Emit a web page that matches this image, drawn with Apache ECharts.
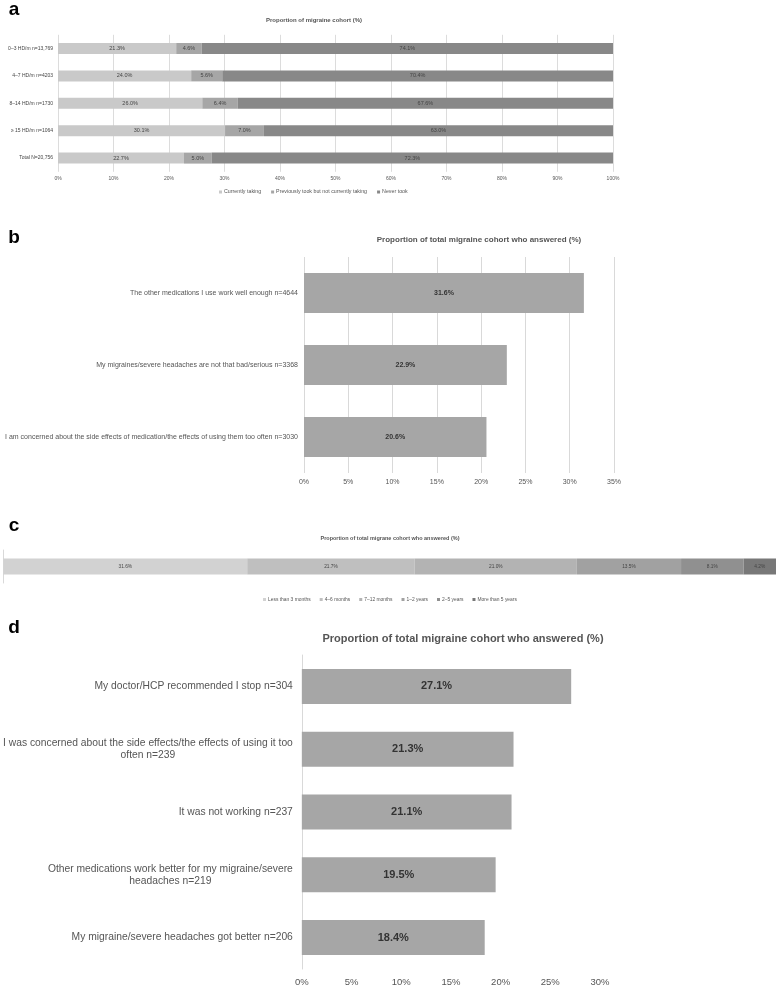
<!DOCTYPE html>
<html><head><meta charset="utf-8">
<script src="https://cdn.jsdelivr.net/npm/echarts@6/dist/echarts.min.js"></script>
<style>html,body{margin:0;padding:0;background:#fff}#c{width:777px;height:987px}</style>
</head><body><div id="c"></div>
<script>
// ---- Panel a ----
const aCategories = ['0–3 HD/m n=13,769', '4–7 HD/m n=4203', '8–14 HD/m n=1730', '≥ 15 HD/m n=1064', 'Total N=20,756'];
const aSeriesNames = ['Currently taking', 'Previously took but not currently taking', 'Never took'];
const aCurrently = [21.3, 24.0, 26.0, 30.1, 22.7];
const aPreviously = [4.6, 5.6, 6.4, 7.0, 5.0];
const aNever = [74.1, 70.4, 67.6, 63.0, 72.3];
// ---- Panel b ----
const bCategories = ['The other medications I use work well enough n=4644',
  'My migraines/severe headaches are not that bad/serious n=3368',
  'I am concerned about the side effects of medication/the effects of using them too often n=3030'];
const bValues = [31.6, 22.9, 20.6];
// ---- Panel c ----
const cNames = ['Less than 3 months', '4–6 months', '7–12 months', '1–2 years', '2–5 years', 'More than 5 years'];
const cValues = [31.6, 21.7, 21.0, 13.5, 8.1, 4.2];
// ---- Panel d ----
const dCategories = ['My doctor/HCP recommended I stop n=304',
  'I was concerned about the side effects/the effects of using it too\noften n=239',
  'It was not working n=237',
  'Other medications work better for my migraine/severe\nheadaches n=219',
  'My migraine/severe headaches got better n=206'];
const dValues = [27.1, 21.3, 21.1, 19.5, 18.4];

const FONT = '"Liberation Sans", Arial, sans-serif';
const pct = p => p.value.toFixed(1) + '%';
const aColors = ['#c9c9c9', '#a6a6a6', '#888888'];
const cColors = ['#d2d2d2', '#bfbfbf', '#b3b3b3', '#a1a1a1', '#909090', '#787878'];
const cTotal = cValues.reduce((s, v) => s + v, 0);

const chart = echarts.init(document.getElementById('c'), null, {renderer: 'canvas'});

const txt = (x, y, text, size, bold, color) => ({
  type: 'text', x: x, y: y, silent: true,
  style: {text: text, fontSize: size, fontWeight: bold ? 'bold' : 'normal', fontFamily: FONT,
    fill: color, align: 'center', verticalAlign: 'middle'}
});

const series = [];
[aCurrently, aPreviously, aNever].forEach((arr, i) => {
  series.push({
    type: 'bar', name: aSeriesNames[i], stack: 'a', xAxisIndex: 0, yAxisIndex: 0,
    data: arr, barWidth: 11, itemStyle: {color: aColors[i]},
    label: {show: true, position: 'inside', formatter: pct, fontSize: 5.5, color: '#444', fontFamily: FONT},
    emphasis: {disabled: true}, animation: false
  });
});
series.push({
  type: 'bar', name: 'b', xAxisIndex: 1, yAxisIndex: 1, data: bValues, barWidth: 40,
  itemStyle: {color: '#a6a6a6'},
  label: {show: true, position: 'inside', formatter: pct, fontSize: 7, fontWeight: 'bold', color: '#333', fontFamily: FONT},
  animation: false
});
cValues.forEach((v, i) => {
  series.push({
    type: 'bar', name: cNames[i], stack: 'c', xAxisIndex: 2, yAxisIndex: 2,
    data: [v], barWidth: 16, itemStyle: {color: cColors[i]},
    label: {show: true, position: 'inside', formatter: pct, fontSize: 4.8, color: '#444', fontFamily: FONT},
    animation: false
  });
});
series.push({
  type: 'bar', name: 'd', xAxisIndex: 3, yAxisIndex: 3, data: dValues, barWidth: 35,
  itemStyle: {color: '#a6a6a6'},
  label: {show: true, position: 'inside', formatter: pct, fontSize: 11, fontWeight: 'bold', color: '#333', fontFamily: FONT},
  animation: false
});

const option = {
  animation: false,
  textStyle: {fontFamily: FONT},
  grid: [
    {left: 58, top: 34.8, width: 555, height: 137},
    {left: 304, top: 257, width: 310, height: 216},
    {left: 3.3, top: 550, width: 772.7, height: 33},
    {left: 300, top: 655, width: 300, height: 315}
  ],
  xAxis: [
    {type: 'value', gridIndex: 0, min: 0, max: 100, interval: 10,
      axisLine: {show: false}, axisTick: {show: false},
      splitLine: {lineStyle: {color: '#dcdcdc'}},
      axisLabel: {formatter: '{value}%', fontSize: 5, color: '#555', margin: 4}},
    {type: 'value', gridIndex: 1, min: 0, max: 35, interval: 5,
      axisLine: {show: false}, axisTick: {show: false},
      splitLine: {lineStyle: {color: '#d9d9d9'}},
      axisLabel: {formatter: '{value}%', fontSize: 7, color: '#555', margin: 6}},
    {type: 'value', gridIndex: 2, min: 0, max: cTotal, show: false},
    {type: 'value', gridIndex: 3, min: 0, max: 30, interval: 5,
      axisLine: {show: false}, axisTick: {show: false}, splitLine: {show: false},
      axisLabel: {formatter: '{value}%', fontSize: 9.5, color: '#555', margin: 8}}
  ],
  yAxis: [
    {type: 'category', gridIndex: 0, inverse: true, data: aCategories,
      axisLine: {show: false}, axisTick: {show: false},
      axisLabel: {fontSize: 5, color: '#444', margin: 5}},
    {type: 'category', gridIndex: 1, inverse: true, data: bCategories,
      axisLine: {show: false}, axisTick: {show: false},
      axisLabel: {fontSize: 7, color: '#555', margin: 6}},
    {type: 'category', gridIndex: 2, data: [''],
      axisLine: {show: true, lineStyle: {color: '#d9d9d9'}}, axisTick: {show: false},
      axisLabel: {show: false}},
    {type: 'category', gridIndex: 3, inverse: true, data: dCategories,
      axisLine: {show: true, lineStyle: {color: '#d9d9d9'}}, axisTick: {show: false},
      axisLabel: {margin: 9, formatter: v => '{c|' + v + '}',
        rich: {c: {align: 'center', fontSize: 10.3, color: '#555', lineHeight: 12, fontFamily: FONT}}}}
  ],
  legend: [
    {data: aSeriesNames, left: 219, top: 189.5, padding: 0, itemWidth: 3, itemHeight: 3, itemGap: 10,
      icon: 'rect', selectedMode: false, textStyle: {fontSize: 5.3, color: '#555', padding: [0, 0, 0, -3]}},
    {data: cNames, left: 263, top: 597, padding: 0, itemWidth: 3, itemHeight: 3, itemGap: 9,
      icon: 'rect', selectedMode: false, textStyle: {fontSize: 4.9, color: '#555', padding: [0, 0, 0, -3]}}
  ],
  graphic: [
    txt(14, 10, 'a', 19, true, '#000'),
    txt(14, 238, 'b', 19, true, '#000'),
    txt(14, 526, 'c', 19, true, '#000'),
    txt(14, 628, 'd', 19, true, '#000'),
    txt(314, 20, 'Proportion of migraine cohort (%)', 6, true, '#555'),
    txt(479, 240, 'Proportion of total migraine cohort who answered (%)', 8, true, '#555'),
    txt(390, 538, 'Proportion of total migrane cohort who answered (%)', 5.5, true, '#555'),
    txt(463, 639, 'Proportion of total migraine cohort who answered (%)', 11, true, '#555')
  ],
  series: series
};
chart.setOption(option);
</script></body></html>
